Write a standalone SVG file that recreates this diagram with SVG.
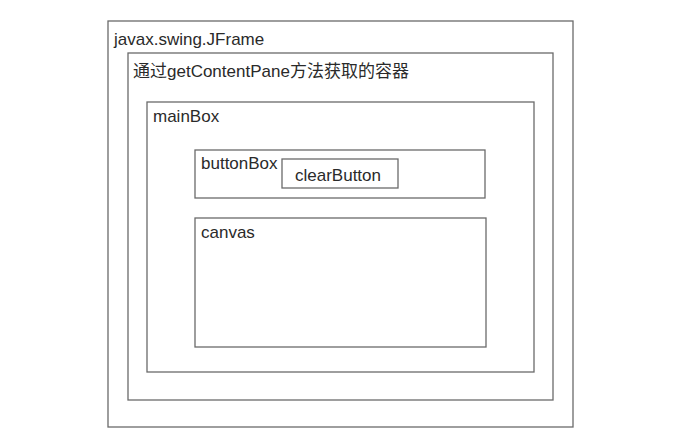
<svg xmlns="http://www.w3.org/2000/svg" width="688" height="432" viewBox="0 0 688 432">
<style>
.box{fill:none;stroke:#6a6a6a;stroke-width:1.3}
.t{font-family:"Liberation Sans","Noto Sans CJK SC",sans-serif;font-size:17px;fill:#2a2a2a}
</style>
<rect width="688" height="432" fill="#fff"/>
<g id="jframe"><rect class="box" x="108" y="21" width="465" height="406"/><text class="t" x="114" y="45">javax.swing.JFrame</text></g>
<g id="contentPane"><rect class="box" x="128" y="53" width="425" height="347"/><text class="t" x="133" y="77">通过getContentPane方法获取的容器</text></g>
<g id="mainBox"><rect class="box" x="147" y="102" width="387" height="270"/><text class="t" x="153" y="122">mainBox</text></g>
<g id="buttonBox"><rect class="box" x="195" y="150" width="290" height="48"/><text class="t" x="201" y="169">buttonBox</text></g>
<g id="clearButton"><rect class="box" x="282" y="159" width="116" height="29"/><text class="t" x="295" y="181">clearButton</text></g>
<g id="canvas"><rect class="box" x="195" y="218" width="291" height="129"/><text class="t" x="201" y="238">canvas</text></g>
<g id="connectors"/>
</svg>
